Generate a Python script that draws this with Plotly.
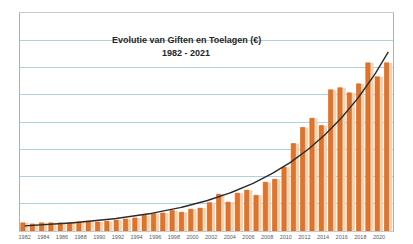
import numpy as np
import plotly.graph_objects as go

# Years 1982-2021 and values (in gridline units)
years = list(range(1982, 2022))
values = [0.30, 0.26, 0.30, 0.30, 0.30, 0.30, 0.33, 0.36, 0.33, 0.36,
          0.40, 0.44, 0.48, 0.58, 0.64, 0.66, 0.75, 0.69, 0.80, 0.84,
          1.04, 1.35, 1.06, 1.39, 1.50, 1.31, 1.79, 1.90, 2.34, 3.21,
          3.80, 4.14, 3.87, 5.18, 5.26, 5.07, 5.40, 6.17, 5.66, 6.17]
tick_years = list(range(1982, 2021, 2))
tick_labels = [str(y) for y in tick_years]
title_line1 = "Evolutie van Giften en Toelagen (€)"
title_line2 = "1982 - 2021"

# Exponential trendline (least squares on ln(y)), like the spreadsheet trendline
t = np.arange(len(years))
b, ln_a = np.polyfit(t, np.log(values), 1)
t_fine = np.linspace(0, len(years) - 1, 200)
trend_x = [years[0] + tt for tt in t_fine]
trend_y = np.exp(ln_a + b * t_fine)

fig = go.Figure()
fig.add_trace(go.Bar(x=years, y=values, width=0.84, offset=-0.42,
                     marker=dict(color="#F9D0A8", line=dict(width=0)),
                     showlegend=False))
fig.add_trace(go.Bar(x=years, y=values, width=0.46, offset=-0.42,
                     marker=dict(color="#DB7631", line=dict(color="#C0622A", width=0.5)),
                     showlegend=False))
fig.add_trace(go.Scatter(x=trend_x, y=trend_y, mode="lines",
                         line=dict(color="#2B2B2B", width=1.4),
                         showlegend=False, hoverinfo="skip"))

fig.add_shape(type="rect", xref="paper", yref="paper",
              x0=(65 - 20) / 373, x1=(305 - 20) / 373,
              y0=(231 - 55) / 218, y1=(231 - 22) / 218,
              fillcolor="white", line=dict(width=0), layer="between")
fig.add_annotation(text="<b>" + title_line1 + "</b>", xref="paper", yref="paper",
                   x=(186 - 20) / 373, y=(231 - 33) / 218, showarrow=False,
                   font=dict(family="Liberation Sans", size=9, color="#262626"))
fig.add_annotation(text="<b>" + title_line2 + "</b>", xref="paper", yref="paper",
                   x=(186 - 20) / 373, y=(231 - 46) / 218, showarrow=False,
                   font=dict(family="Liberation Sans", size=9, color="#262626"))

fig.update_layout(
    template="none",
    width=413, height=244,
    margin=dict(l=20, r=20, t=13, b=13, pad=0),
    paper_bgcolor="white", plot_bgcolor="white",
    barmode="overlay",
    font=dict(family="Liberation Sans"),
    xaxis=dict(range=[1981.5, 2021.5], tickmode="array",
               tickvals=tick_years, ticktext=tick_labels,
               tickfont=dict(size=5.5, color="#595959"),
               showgrid=False, zeroline=False, ticks="", automargin=False,
               showline=True, linecolor="#C8C8C8", linewidth=1, mirror=True),
    yaxis=dict(range=[0, 8], dtick=1, showticklabels=False, automargin=False,
               showgrid=True, gridcolor="#AFD2D8", gridwidth=1,
               zeroline=False, ticks="",
               showline=True, linecolor="#B0B0B0", linewidth=1, mirror=True),
)

fig.write_html("out.html", config={"displayModeBar": False},
               post_script="document.body.style.margin='0';document.body.style.padding='0';")
